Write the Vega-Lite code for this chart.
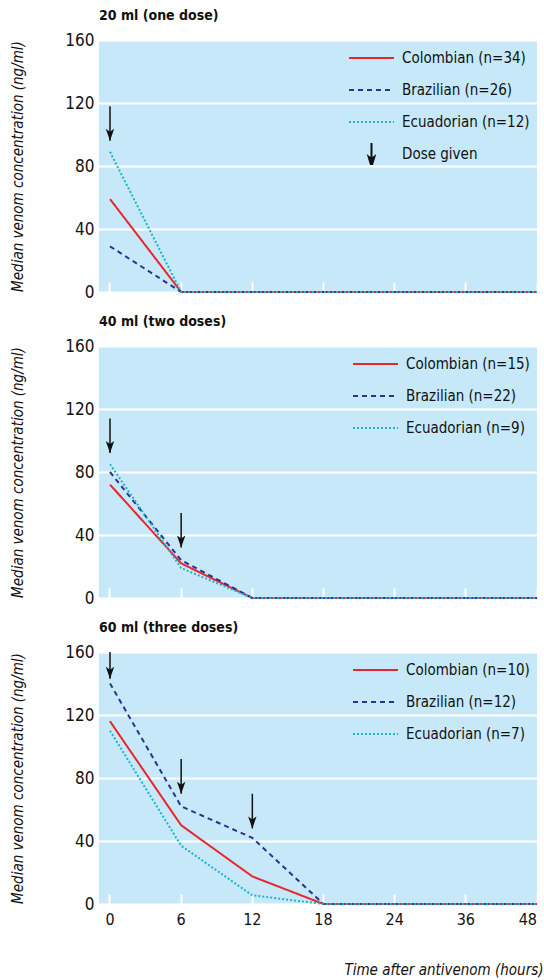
{
  "$schema": "https://vega.github.io/schema/vega-lite/v6.json",
  "background": "white",
  "padding": {"left": 10, "top": 9, "right": 2, "bottom": 2},
  "spacing": 15,
  "datasets": {
    "conc20": [
      {"series": "Colombian (n=34)", "time": 0, "value": 59},
      {"series": "Colombian (n=34)", "time": 6, "value": 0},
      {"series": "Colombian (n=34)", "time": 12, "value": 0},
      {"series": "Colombian (n=34)", "time": 18, "value": 0},
      {"series": "Colombian (n=34)", "time": 24, "value": 0},
      {"series": "Colombian (n=34)", "time": 36, "value": 0},
      {"series": "Colombian (n=34)", "time": 48, "value": 0},
      {"series": "Brazilian (n=26)", "time": 0, "value": 29},
      {"series": "Brazilian (n=26)", "time": 6, "value": 0},
      {"series": "Brazilian (n=26)", "time": 12, "value": 0},
      {"series": "Brazilian (n=26)", "time": 18, "value": 0},
      {"series": "Brazilian (n=26)", "time": 24, "value": 0},
      {"series": "Brazilian (n=26)", "time": 36, "value": 0},
      {"series": "Brazilian (n=26)", "time": 48, "value": 0},
      {"series": "Ecuadorian (n=12)", "time": 0, "value": 89},
      {"series": "Ecuadorian (n=12)", "time": 6, "value": 0},
      {"series": "Ecuadorian (n=12)", "time": 12, "value": 0},
      {"series": "Ecuadorian (n=12)", "time": 18, "value": 0},
      {"series": "Ecuadorian (n=12)", "time": 24, "value": 0},
      {"series": "Ecuadorian (n=12)", "time": 36, "value": 0},
      {"series": "Ecuadorian (n=12)", "time": 48, "value": 0}
    ],
    "conc40": [
      {"series": "Colombian (n=15)", "time": 0, "value": 72},
      {"series": "Colombian (n=15)", "time": 6, "value": 22},
      {"series": "Colombian (n=15)", "time": 12, "value": 0},
      {"series": "Colombian (n=15)", "time": 18, "value": 0},
      {"series": "Colombian (n=15)", "time": 24, "value": 0},
      {"series": "Colombian (n=15)", "time": 36, "value": 0},
      {"series": "Colombian (n=15)", "time": 48, "value": 0},
      {"series": "Brazilian (n=22)", "time": 0, "value": 80},
      {"series": "Brazilian (n=22)", "time": 6, "value": 24},
      {"series": "Brazilian (n=22)", "time": 12, "value": 0},
      {"series": "Brazilian (n=22)", "time": 18, "value": 0},
      {"series": "Brazilian (n=22)", "time": 24, "value": 0},
      {"series": "Brazilian (n=22)", "time": 36, "value": 0},
      {"series": "Brazilian (n=22)", "time": 48, "value": 0},
      {"series": "Ecuadorian (n=9)", "time": 0, "value": 85},
      {"series": "Ecuadorian (n=9)", "time": 6, "value": 19},
      {"series": "Ecuadorian (n=9)", "time": 12, "value": 0},
      {"series": "Ecuadorian (n=9)", "time": 18, "value": 0},
      {"series": "Ecuadorian (n=9)", "time": 24, "value": 0},
      {"series": "Ecuadorian (n=9)", "time": 36, "value": 0},
      {"series": "Ecuadorian (n=9)", "time": 48, "value": 0}
    ],
    "conc60": [
      {"series": "Colombian (n=10)", "time": 0, "value": 116},
      {"series": "Colombian (n=10)", "time": 6, "value": 50},
      {"series": "Colombian (n=10)", "time": 12, "value": 17.5},
      {"series": "Colombian (n=10)", "time": 18, "value": 0},
      {"series": "Colombian (n=10)", "time": 24, "value": 0},
      {"series": "Colombian (n=10)", "time": 36, "value": 0},
      {"series": "Colombian (n=10)", "time": 48, "value": 0},
      {"series": "Brazilian (n=12)", "time": 0, "value": 140},
      {"series": "Brazilian (n=12)", "time": 6, "value": 62},
      {"series": "Brazilian (n=12)", "time": 12, "value": 42},
      {"series": "Brazilian (n=12)", "time": 18, "value": 0},
      {"series": "Brazilian (n=12)", "time": 24, "value": 0},
      {"series": "Brazilian (n=12)", "time": 36, "value": 0},
      {"series": "Brazilian (n=12)", "time": 48, "value": 0},
      {"series": "Ecuadorian (n=7)", "time": 0, "value": 110},
      {"series": "Ecuadorian (n=7)", "time": 6, "value": 37},
      {"series": "Ecuadorian (n=7)", "time": 12, "value": 5.5},
      {"series": "Ecuadorian (n=7)", "time": 18, "value": 0},
      {"series": "Ecuadorian (n=7)", "time": 24, "value": 0},
      {"series": "Ecuadorian (n=7)", "time": 36, "value": 0},
      {"series": "Ecuadorian (n=7)", "time": 48, "value": 0}
    ],
    "arrows20": [{"time": 0, "top": 118, "tip": 96}],
    "arrows40": [{"time": 0, "top": 114, "tip": 92}, {"time": 6, "top": 54, "tip": 32}],
    "arrows60": [{"time": 0, "top": 160, "tip": 143}, {"time": 6, "top": 92, "tip": 70}, {"time": 12, "top": 70, "tip": 48}]
  },
  "vconcat": [
    {
      "title": {"text": "20 ml (one dose)"},
      "width": 438, "height": 252,
      "layer": [
        {
          "data": {"name": "conc20"},
          "mark": {"type": "line", "strokeWidth": 2},
          "encoding": {
            "x": {"field": "time", "type": "ordinal", "scale": {"domain": [0, 6, 12, 18, 24, 36, 48], "range": [-24.6, 473.6]}, "axis": {"labels": false, "title": null}},
            "y": {"field": "value", "type": "quantitative", "scale": {"domain": [0, 160], "nice": false}, "axis": {"title": "Median venom concentration (ng/ml)", "values": [0, 40, 80, 120, 160]}},
            "color": {"field": "series", "type": "nominal", "scale": {"domain": ["Colombian (n=34)", "Brazilian (n=26)", "Ecuadorian (n=12)", "Dose given"], "range": ["#e8262b", "#2e3192", "#1db3c9", "#111111"]},
              "legend": {"encode": {"symbols": {"update": {
                "shape": {"signal": "datum.value === 'Dose given' ? 'M0,-0.55L0,0.4M0,0.55L-0.13,0.12L0,0.22L0.13,0.12Z' : 'stroke'"},
                "fill": {"signal": "datum.value === 'Dose given' ? '#111111' : 'transparent'"}
              }}}}},
            "strokeDash": {"field": "series", "type": "nominal", "scale": {"domain": ["Colombian (n=34)", "Brazilian (n=26)", "Ecuadorian (n=12)", "Dose given"], "range": [[1, 0], [5, 4], [2, 2], [1, 0]]},
              "legend": {"encode": {"symbols": {"update": {
                "shape": {"signal": "datum.value === 'Dose given' ? 'M0,-0.55L0,0.4M0,0.55L-0.13,0.12L0,0.22L0.13,0.12Z' : 'stroke'"},
                "fill": {"signal": "datum.value === 'Dose given' ? '#111111' : 'transparent'"}
              }}}}}
          }
        },
        {
          "data": {"name": "arrows20"},
          "mark": {"type": "rule", "strokeWidth": 1.5, "color": "#111111"},
          "encoding": {"x": {"field": "time", "type": "ordinal"}, "y": {"field": "top", "type": "quantitative"}, "y2": {"field": "tip"}}
        },
        {
          "data": {"name": "arrows20"},
          "mark": {"type": "point", "filled": true, "opacity": 1, "color": "#111111", "size": 144, "shape": "M0,0L-0.7,-2L0,-1.5L0.7,-2Z"},
          "encoding": {"x": {"field": "time", "type": "ordinal"}, "y": {"field": "tip", "type": "quantitative"}}
        }
      ]
    },
    {
      "title": {"text": "40 ml (two doses)"},
      "width": 438, "height": 252,
      "layer": [
        {
          "data": {"name": "conc40"},
          "mark": {"type": "line", "strokeWidth": 2},
          "encoding": {
            "x": {"field": "time", "type": "ordinal", "scale": {"domain": [0, 6, 12, 18, 24, 36, 48], "range": [-24.6, 473.6]}, "axis": {"labels": false, "title": null}},
            "y": {"field": "value", "type": "quantitative", "scale": {"domain": [0, 160], "nice": false}, "axis": {"title": "Median venom concentration (ng/ml)", "values": [0, 40, 80, 120, 160]}},
            "color": {"field": "series", "type": "nominal", "scale": {"domain": ["Colombian (n=15)", "Brazilian (n=22)", "Ecuadorian (n=9)"], "range": ["#e8262b", "#2e3192", "#1db3c9"]}},
            "strokeDash": {"field": "series", "type": "nominal", "scale": {"domain": ["Colombian (n=15)", "Brazilian (n=22)", "Ecuadorian (n=9)"], "range": [[1, 0], [5, 4], [2, 2]]}}
          }
        },
        {
          "data": {"name": "arrows40"},
          "mark": {"type": "rule", "strokeWidth": 1.5, "color": "#111111"},
          "encoding": {"x": {"field": "time", "type": "ordinal"}, "y": {"field": "top", "type": "quantitative"}, "y2": {"field": "tip"}}
        },
        {
          "data": {"name": "arrows40"},
          "mark": {"type": "point", "filled": true, "opacity": 1, "color": "#111111", "size": 144, "shape": "M0,0L-0.7,-2L0,-1.5L0.7,-2Z"},
          "encoding": {"x": {"field": "time", "type": "ordinal"}, "y": {"field": "tip", "type": "quantitative"}}
        }
      ]
    },
    {
      "title": {"text": "60 ml (three doses)"},
      "width": 438, "height": 252,
      "layer": [
        {
          "data": {"name": "conc60"},
          "mark": {"type": "line", "strokeWidth": 2},
          "encoding": {
            "x": {"field": "time", "type": "ordinal", "scale": {"domain": [0, 6, 12, 18, 24, 36, 48], "range": [-24.6, 473.6]}, "axis": {"labels": true, "labelFontSize": 16, "labelPadding": 17, "labelAlign": {"expr": "datum.value == 48 ? 'right' : 'center'"}, "title": "Time after antivenom (hours)", "titleX": 444, "titleAlign": "right", "titlePadding": 35, "titleFontStyle": "italic", "titleFontWeight": "normal", "titleFontSize": 15, "titleColor": "#111111"}},
            "y": {"field": "value", "type": "quantitative", "scale": {"domain": [0, 160], "nice": false}, "axis": {"title": "Median venom concentration (ng/ml)", "values": [0, 40, 80, 120, 160]}},
            "color": {"field": "series", "type": "nominal", "scale": {"domain": ["Colombian (n=10)", "Brazilian (n=12)", "Ecuadorian (n=7)"], "range": ["#e8262b", "#2e3192", "#1db3c9"]}},
            "strokeDash": {"field": "series", "type": "nominal", "scale": {"domain": ["Colombian (n=10)", "Brazilian (n=12)", "Ecuadorian (n=7)"], "range": [[1, 0], [5, 4], [2, 2]]}}
          }
        },
        {
          "data": {"name": "arrows60"},
          "mark": {"type": "rule", "strokeWidth": 1.5, "color": "#111111"},
          "encoding": {"x": {"field": "time", "type": "ordinal"}, "y": {"field": "top", "type": "quantitative"}, "y2": {"field": "tip"}}
        },
        {
          "data": {"name": "arrows60"},
          "mark": {"type": "point", "filled": true, "opacity": 1, "color": "#111111", "size": 144, "shape": "M0,0L-0.7,-2L0,-1.5L0.7,-2Z"},
          "encoding": {"x": {"field": "time", "type": "ordinal"}, "y": {"field": "tip", "type": "quantitative"}}
        }
      ]
    }
  ],
  "resolve": {"scale": {"color": "independent", "strokeDash": "independent", "x": "independent", "y": "independent"}},
  "config": {
    "font": "DejaVu Sans Condensed",
    "scale": {"pointPadding": 0.5},
    "view": {"stroke": null, "fill": "#c6e8f9"},
    "title": {"anchor": "start", "frame": "group", "fontSize": 14, "fontWeight": "bold", "color": "#111111", "offset": 8},
    "axisX": {"domain": false, "ticks": true, "tickColor": "white", "tickWidth": 2, "tickSize": -10, "grid": false, "labelAngle": 0, "labelColor": "#111111"},
    "axisY": {"domain": false, "ticks": false, "labelPadding": 5, "labelFontSize": 17, "labelColor": "#111111", "grid": true, "gridColor": "white", "gridWidth": 2, "gridOpacity": 1, "titleFontStyle": "italic", "titleFontWeight": "normal", "titleFontSize": 15, "titleColor": "#111111", "titlePadding": 39},
    "legend": {
      "title": null, "orient": "top-right", "offset": 7, "padding": 0,
      "symbolType": "stroke", "symbolSize": 2025, "symbolStrokeWidth": 2,
      "clipHeight": 22, "rowPadding": 10, "labelOffset": 7,
      "labelFontSize": 15, "labelColor": "#111111", "labelLimit": 0
    }
  }
}
